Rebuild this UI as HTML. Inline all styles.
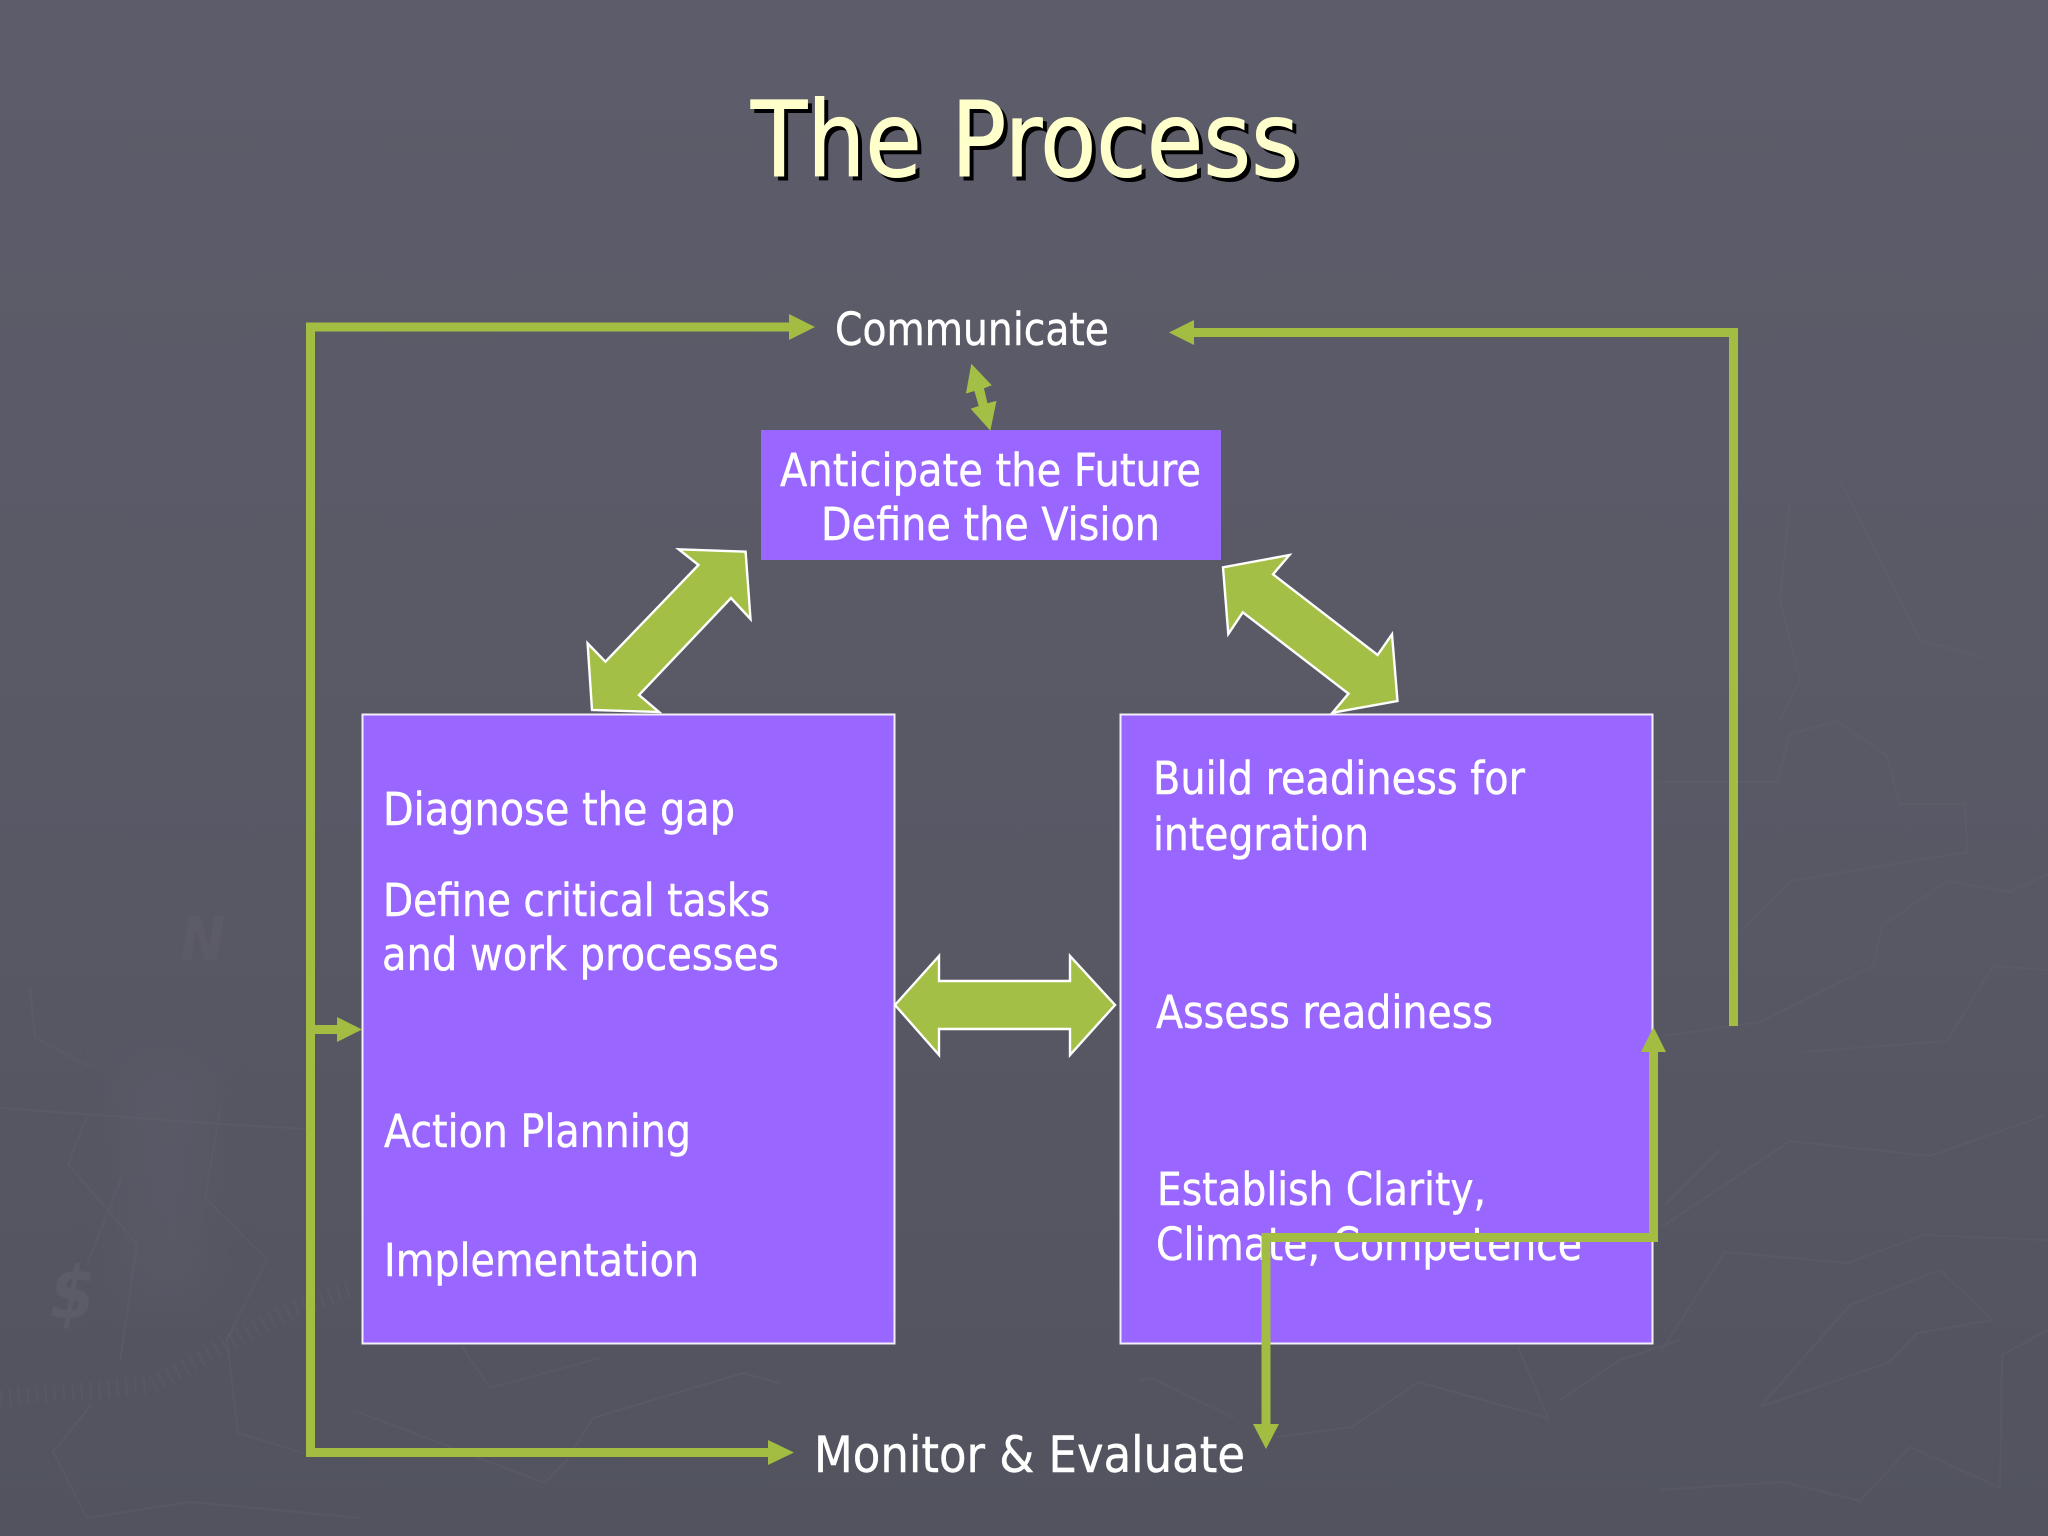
<!DOCTYPE html>
<html>
<head>
<meta charset="utf-8">
<title>The Process</title>
<style>
html,body{margin:0;padding:0;width:2048px;height:1536px;overflow:hidden;background:#595966}
svg{display:block}
text{font-family:"DejaVu Sans","Liberation Sans",sans-serif;font-stretch:condensed;fill:#fff;font-size:45px;stroke:#fff;stroke-width:.4}
.t{font-size:104px;stroke-width:1}
</style>
</head>
<body>
<svg width="2048" height="1536" viewBox="0 0 2048 1536" xmlns="http://www.w3.org/2000/svg">
<defs>
<linearGradient id="bg" x1="0" y1="0" x2="0" y2="1">
<stop offset="0" stop-color="#5d5c6a"/>
<stop offset="0.5" stop-color="#595966"/>
<stop offset="1" stop-color="#52535e"/>
</linearGradient>
<filter id="blur" x="-50%" y="-50%" width="200%" height="200%"><feGaussianBlur stdDeviation="22"/></filter>
</defs>
<rect width="2048" height="1536" fill="url(#bg)"/>

<!-- faint background texture -->
<rect x="120" y="1060" width="90" height="240" fill="#62616f" opacity=".3" filter="url(#blur)"/>
<g fill="none" stroke="#64636f" stroke-width="2" opacity=".32">
<polyline points="1660,1228 1790,1141 1930,1156 2043,1116"/>
<polyline points="1660,1353 1725,1252 1848,1263 1923,1235 2048,1240"/>
<polyline points="1760,1407 1850,1305 1940,1270 1993,1320 1917,1333 1890,1362 1760,1407"/>
<polyline points="1660,1490 1783,1482 1860,1501 1910,1447 2000,1488 2002,1355 2048,1330"/>
<polyline points="1663,1036 1760,1022 1873,966 1882,926 1947,881 2010,892 2048,874"/>
<polyline points="1803,1052 1947,1041 1993,966 2048,970"/>
<polyline points="1740,933 1790,881 1967,852 1965,804 1900,804 1887,756 1837,721 1790,734 1777,782 1660,782"/>
<polyline points="0,1108 220,1124 307,1129"/>
<polyline points="87,1116 68,1164 137,1244 120,1361"/>
<polyline points="220,1110 205,1198 267,1260 227,1340 238,1433 307,1454"/>
<polyline points="123,1174 87,1265"/>
<polyline points="92,1404 53,1452 87,1518 190,1502 360,1518"/>
<polyline points="30,988 35,1038 93,1068"/>
<polyline points="462,1347 490,1388 600,1358"/>
<polyline points="353,1410 545,1483 567,1460 593,1418 743,1373 780,1383"/>
<polyline points="1140,1380 1152,1378 1234,1418"/>
<polyline points="1275,1437 1352,1427 1418,1382 1548,1418 1518,1347"/>
<polyline points="1560,1400 1620,1360 1680,1340"/>
<polyline points="1665,1205 1720,1150"/>
<polyline points="1790,500 1780,600 1800,680 1780,720"/>
<polyline points="1840,480 1880,560 1920,640 1990,660"/>
</g>
<polyline points="0,1398 150,1385 290,1310 350,1290" fill="none" stroke="#64636f" stroke-width="18" stroke-dasharray="2 7" opacity=".28"/>
<text x="50" y="1318" style="font-size:72px;font-style:italic;font-weight:bold;fill:#6a6975;stroke:none;opacity:.35">$</text>
<text x="180" y="960" style="font-size:60px;font-style:italic;font-weight:bold;fill:#6a6975;stroke:none;opacity:.22">N</text>

<!-- boxes -->
<rect x="761" y="430" width="460" height="130" fill="#9966ff"/>
<rect x="362.5" y="714.5" width="532" height="629" fill="#9966ff" stroke="#f2eefc" stroke-width="2"/>
<rect x="1120.5" y="714.5" width="532" height="629" fill="#9966ff" stroke="#f2eefc" stroke-width="2"/>

<!-- block arrows -->
<g fill="#a4bf45" stroke="#fff" stroke-width="2.4" stroke-linejoin="miter">
<polygon points="678.7,549.3 745.6,551.7 750.5,619 731,598 639,695 659,712 592,710 587.6,643.3 605.4,661.7 698.5,565"/>
<polygon points="1289.4,555 1223,567.3 1228.3,634 1242.8,612.3 1348.5,693.7 1332.5,712.7 1397.5,701 1392,634.3 1377.6,655 1273,574.3"/>
<polygon points="895,1005 939,956 939,981 1070,981 1070,956 1115,1005 1070,1055 1070,1029 939,1029 939,1055"/>
</g>
<polygon fill="#a4bf45" stroke="#a4bf45" stroke-width="1.2" points="971.7,365 990.7,385 983.3,388 987,404 995.7,401.7 990,429.3 971.7,409 979.5,406.3 974.8,390.3 966.7,392.7"/>

<!-- text -->
<text class="t" x="755" y="180" textLength="548" lengthAdjust="spacingAndGlyphs" style="fill:#000;stroke:#000">The Process</text>
<text class="t" x="751" y="176" textLength="548" lengthAdjust="spacingAndGlyphs" style="fill:#ffffcc;stroke:#ffffcc">The Process</text>

<text x="835" y="345" textLength="274" lengthAdjust="spacingAndGlyphs">Communicate</text>
<text x="780" y="486" textLength="421" lengthAdjust="spacingAndGlyphs">Anticipate the Future</text>
<text x="821" y="540" textLength="339" lengthAdjust="spacingAndGlyphs">Define the Vision</text>
<text x="383" y="825" textLength="352" lengthAdjust="spacingAndGlyphs">Diagnose the gap</text>
<text x="383" y="916" textLength="387" lengthAdjust="spacingAndGlyphs">Define critical tasks</text>
<text x="382" y="970" textLength="397" lengthAdjust="spacingAndGlyphs">and work processes</text>
<text x="384" y="1147" textLength="307" lengthAdjust="spacingAndGlyphs">Action Planning</text>
<text x="384" y="1276" textLength="315" lengthAdjust="spacingAndGlyphs">Implementation</text>
<text x="1153" y="794" textLength="372" lengthAdjust="spacingAndGlyphs">Build readiness for</text>
<text x="1153" y="850" textLength="216" lengthAdjust="spacingAndGlyphs">integration</text>
<text x="1156" y="1028" textLength="337" lengthAdjust="spacingAndGlyphs">Assess readiness</text>
<text x="1157" y="1205" textLength="329" lengthAdjust="spacingAndGlyphs">Establish Clarity,</text>
<text x="1156" y="1260" textLength="426" lengthAdjust="spacingAndGlyphs">Climate, Competence</text>
<text x="814" y="1472" textLength="431" lengthAdjust="spacingAndGlyphs" style="font-size:50px">Monitor &amp; Evaluate</text>

<!-- connectors -->
<g fill="none" stroke="#a2bd42" stroke-width="9">
<polyline points="790,327 310.5,327 310.5,1452.5 770,1452.5"/>
<line x1="310" y1="1029.5" x2="340" y2="1029.5"/>
<polyline points="1192,332.5 1733.5,332.5 1733.5,1026"/>
<polyline points="1653.5,1050 1653.5,1237.5 1266,1237.5 1266,1426"/>
</g>
<g fill="#a2bd42">
<polygon points="789,314 815,327 789,340"/>
<polygon points="337,1017 362,1029.5 337,1042"/>
<polygon points="768,1440 794,1452.5 768,1465"/>
<polygon points="1194,320 1169,332.5 1194,345"/>
<polygon points="1641,1052 1653.5,1027 1666,1052"/>
<polygon points="1253,1424 1266,1449 1279,1424"/>
</g>
</svg>
</body>
</html>
